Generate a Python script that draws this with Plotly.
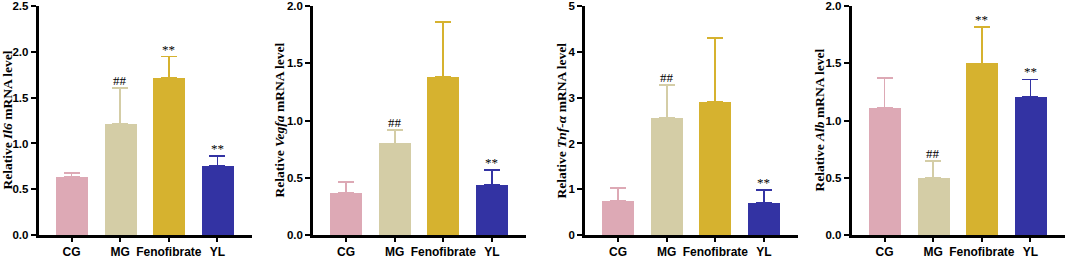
import plotly.graph_objects as go

categories = ["CG", "MG", "Fenofibrate", "YL"]
colors = ["#DDA9B5", "#D4CDA6", "#D6B22F", "#3333A3"]

il6_mean = [0.63, 1.21, 1.72, 0.75]
il6_err = [0.045, 0.40, 0.23, 0.11]
il6_marks = ["", "##", "**", "**"]

vegfa_mean = [0.37, 0.80, 1.385, 0.44]
vegfa_err = [0.09, 0.115, 0.48, 0.125]
vegfa_marks = ["", "##", "", "**"]

tnf_mean = [0.75, 2.55, 2.91, 0.70]
tnf_err = [0.27, 0.72, 1.39, 0.28]
tnf_marks = ["", "##", "", "**"]

alb_mean = [1.11, 0.50, 1.50, 1.21]
alb_err = [0.26, 0.15, 0.32, 0.15]
alb_marks = ["", "##", "**", "**"]

panels = [
    dict(mean=il6_mean, err=il6_err, marks=il6_marks, gene="Il6", ymax=2.5, dtick=0.5, fmt=".1f",
         dom=(38.5, 251.5), title_x=7),
    dict(mean=vegfa_mean, err=vegfa_err, marks=vegfa_marks, gene="Vegfa", ymax=2.0, dtick=0.5, fmt=".1f",
         dom=(313.0, 526.0), title_x=279),
    dict(mean=tnf_mean, err=tnf_err, marks=tnf_marks, gene="Tnf-α", ymax=5, dtick=1, fmt="d",
         dom=(585.0, 798.0), title_x=561),
    dict(mean=alb_mean, err=alb_err, marks=alb_marks, gene="Alb", ymax=2.0, dtick=0.5, fmt=".1f",
         dom=(851.5, 1064.5), title_x=819),
]

W, H = 1065, 259
fig = go.Figure()
annotations = []
ytickfont = dict(family="Liberation Sans, Arial", size=11.5, color="black", weight="bold")
xtickfont = dict(family="Liberation Sans, Arial", size=12, color="black", weight="bold")

for i, p in enumerate(panels):
    n = "" if i == 0 else str(i + 1)
    xa, ya = "x" + n, "y" + n
    for c, m, e, col, mk in zip(categories, p["mean"], p["err"], colors, p["marks"]):
        fig.add_trace(go.Bar(
            x=[c], y=[m], xaxis=xa, yaxis=ya, width=0.66,
            marker=dict(color=col, line=dict(width=0)),
            error_y=dict(type="data", symmetric=False, array=[e], arrayminus=[0],
                         color=col, thickness=1.8, width=8),
            showlegend=False, hoverinfo="skip",
        ))
        if mk:
            annotations.append(dict(
                x=c, y=m + e, xref=xa, yref=ya, text=mk, showarrow=False,
                yanchor="bottom", yshift=-2,
                font=dict(family="Liberation Serif, Times New Roman", size=13, color="black"),
            ))
    d0, d1 = p["dom"][0] / W, p["dom"][1] / W
    fig.layout["xaxis" + n] = dict(
        domain=[d0, d1], anchor=ya, type="category", range=[-0.68, 3.7],
        showline=True, linecolor="black", linewidth=2.5,
        ticks="outside", ticklen=4, tickwidth=2, tickcolor="black",
        tickfont=xtickfont, showgrid=False, zeroline=False, fixedrange=True,
    )
    fig.layout["yaxis" + n] = dict(
        domain=[0, 1], anchor=xa, range=[0, p["ymax"] * 1.001], dtick=p["dtick"], tick0=0,
        tickformat=p["fmt"], showline=True, linecolor="black", linewidth=2.5,
        ticks="outside", ticklen=5, tickwidth=2, tickcolor="black",
        tickfont=ytickfont, showgrid=False, zeroline=False, fixedrange=True,
        ticklabeloverflow="allow",
    )
    annotations.append(dict(
        x=p["title_x"] / W, y=0.5, xref="paper", yref="paper", textangle=-90,
        text="<b>Relative <i>" + p["gene"] + "</i> mRNA level</b>", showarrow=False,
        xanchor="center", yanchor="middle",
        font=dict(family="Liberation Serif, Times New Roman", size=13.5, color="black"),
    ))

fig.update_layout(
    width=W, height=H, barmode="overlay", bargap=0,
    margin=dict(l=0, r=0, t=6, b=19),
    plot_bgcolor="white", paper_bgcolor="white",
    annotations=annotations,
)

fig.write_html(
    "out.html",
    config={"displayModeBar": False},
    post_script="document.body.style.margin='0';document.body.style.overflow='hidden';",
)
